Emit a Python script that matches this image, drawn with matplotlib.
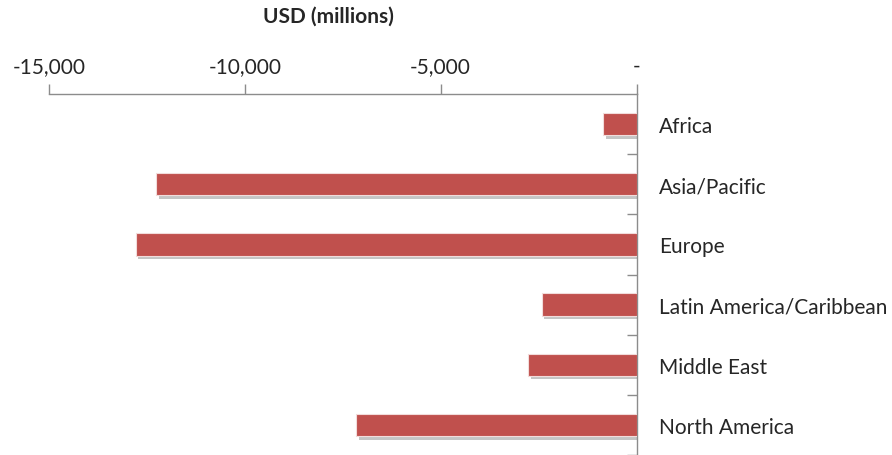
import matplotlib
matplotlib.use("Agg")
import matplotlib.pyplot as plt
import matplotlib.patheffects as pe
from matplotlib.ticker import FuncFormatter, FixedLocator

categories = ["Africa", "Asia/Pacific", "Europe", "Latin America/Caribbean", "Middle East", "North America"]
values = [-855, -12265, -12790, -2420, -2760, -7165]
x_ticks = [-15000, -10000, -5000, 0]
title = "USD (millions)"

plt.rcParams['font.family'] = ['Lato', 'DejaVu Sans']
txt = '#262626'
axc = '#8c8c8c'
fs = 15

fig = plt.figure(figsize=(8.92, 4.56), dpi=100)
ax = fig.add_axes([49/892, 0.0, (636.5-49)/892, 361/456])

y = list(range(len(categories)))
bars = ax.barh(y, values, height=0.37, color='#C0504D', edgecolor='#f2dcdb', linewidth=0.8, zorder=3)
for b in bars:
    b.set_path_effects([pe.SimplePatchShadow(offset=(2, -2.5), shadow_rgbFace='#7f7f7f', alpha=0.45), pe.Normal()])

ax.set_xlim(-15000, 0)
ax.set_ylim(len(categories) - 0.5, -0.5)

ax.xaxis.set_ticks_position('top')
ax.xaxis.set_label_position('top')
ax.set_xticks(x_ticks)
ax.xaxis.set_major_formatter(FuncFormatter(lambda v, p: '-' if v == 0 else f'{v:,.0f}'))
ax.tick_params(axis='x', direction='out', length=7, width=1, color=axc, pad=6, labelsize=fs, labelcolor=txt)

ax.yaxis.set_ticks_position('right')
ax.set_yticks(y)
ax.set_yticklabels(categories)
ax.yaxis.set_minor_locator(FixedLocator([i + 0.5 for i in range(len(categories))]))
ax.tick_params(axis='y', which='major', length=0, pad=16, labelsize=fs, labelcolor=txt)
ax.tick_params(axis='y', which='minor', direction='in', length=7, width=1, color=axc)

for s in ['left', 'bottom']:
    ax.spines[s].set_visible(False)
for s in ['top', 'right']:
    ax.spines[s].set_color(axc)
    ax.spines[s].set_linewidth(1)

fig.text(328/892, 1 - 17/456, title, ha='center', va='center', fontsize=fs, fontweight='bold', color=txt)

fig.savefig('out.png', dpi=100)
